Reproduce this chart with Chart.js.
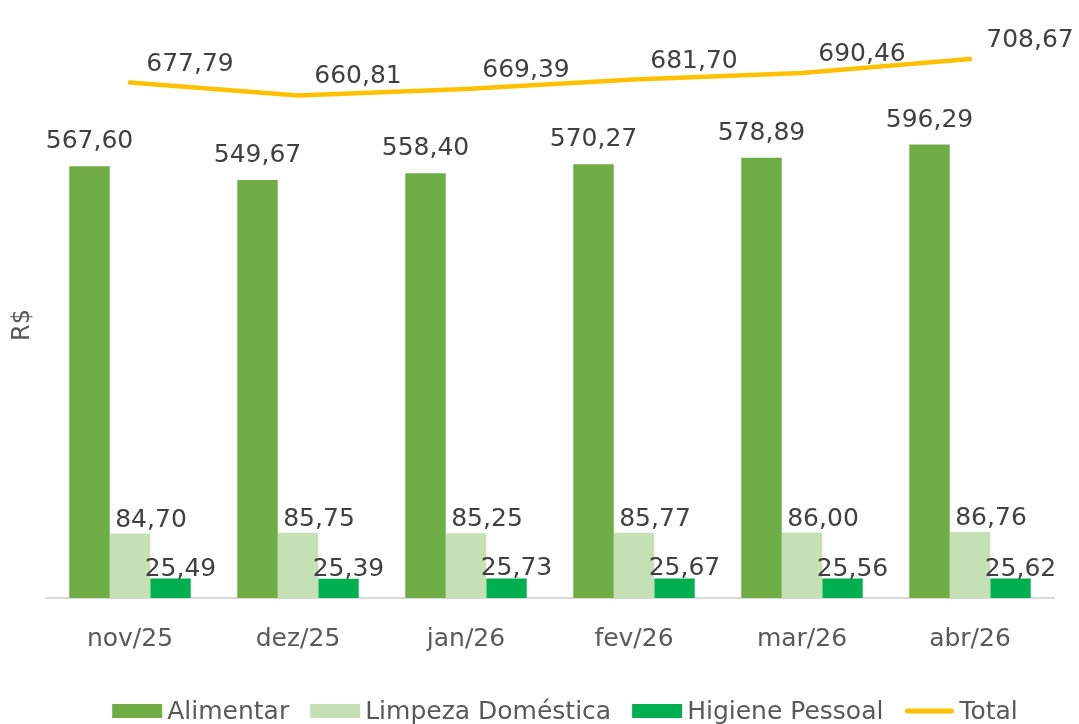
<!DOCTYPE html>
<html>
<head>
<meta charset="utf-8">
<script src="https://cdn.jsdelivr.net/npm/chart.js@4.4.1/dist/chart.umd.min.js"></script>
<style>
  html, body { margin: 0; padding: 0; background: #ffffff; overflow: hidden; }
  #wrap { width: 1079px; height: 724px; position: relative; }
</style>
</head>
<body>
<div id="wrap"><canvas id="c"></canvas></div>
<script>
const categories = ['nov/25', 'dez/25', 'jan/26', 'fev/26', 'mar/26', 'abr/26'];
const alimentar = [567.60, 549.67, 558.40, 570.27, 578.89, 596.29];
const limpeza = [84.70, 85.75, 85.25, 85.77, 86.00, 86.76];
const higiene = [25.49, 25.39, 25.73, 25.67, 25.56, 25.62];
const total = [677.79, 660.81, 669.39, 681.70, 690.46, 708.67];
const seriesNames = ['Alimentar', 'Limpeza Doméstica', 'Higiene Pessoal', 'Total'];
const yAxisTitle = 'R$';

const FONT = "'DejaVu Sans', sans-serif";
const W = 'normal';
const fmt = v => v.toFixed(2).replace('.', ',');

// label offsets per dataset: [dx, dy] relative to the element's top/center
const labelOffsets = [[0, -18], [21, -7], [10, -3], [60, -12]];

const valueLabels = {
  id: 'valueLabels',
  afterDatasetsDraw(chart) {
    const ctx = chart.ctx;
    ctx.save();
    ctx.font = W + ' 25px ' + FONT;
    ctx.fillStyle = '#404040';
    ctx.textAlign = 'center';
    ctx.textBaseline = 'alphabetic';
    chart.data.datasets.forEach((ds, i) => {
      const meta = chart.getDatasetMeta(i);
      const off = labelOffsets[i];
      meta.data.forEach((el, j) => {
        ctx.fillText(fmt(ds.data[j]), el.x + off[0], el.y + off[1]);
      });
    });
    ctx.restore();
  }
};

const customLegend = {
  id: 'customLegend',
  afterDraw(chart) {
    const ctx = chart.ctx;
    ctx.save();
    ctx.font = W + ' 25px ' + FONT;
    ctx.textBaseline = 'middle';
    ctx.textAlign = 'left';
    const boxW = 50, gapText = 5, gapItem = 21;
    const items = chart.data.datasets.map(ds => ({
      label: ds.label, color: ds.type === 'line' ? ds.borderColor : ds.backgroundColor,
      isLine: ds.type === 'line', w: ctx.measureText(ds.label).width
    }));
    let totalW = 0;
    items.forEach((it, k) => { totalW += boxW + gapText + it.w + (k < items.length - 1 ? gapItem : 0); });
    let x = 565 - totalW / 2;
    const cy = 711;
    items.forEach(it => {
      ctx.fillStyle = it.color;
      if (it.isLine) {
        ctx.strokeStyle = it.color;
        ctx.lineWidth = 5;
        ctx.lineCap = 'round';
        ctx.beginPath();
        ctx.moveTo(x + 3, cy);
        ctx.lineTo(x + boxW - 3, cy);
        ctx.stroke();
      } else {
        ctx.fillRect(x, cy - 7, boxW, 14);
      }
      x += boxW + gapText;
      ctx.fillStyle = '#595959';
      ctx.fillText(it.label, x, cy + 1);
      x += it.w + gapItem;
    });
    ctx.restore();
  }
};

new Chart(document.getElementById('c'), {
  type: 'bar',
  data: {
    labels: categories,
    datasets: [
      { label: seriesNames[0], data: alimentar, backgroundColor: '#70AD47', order: 2 },
      { label: seriesNames[1], data: limpeza, backgroundColor: '#C5E0B4', order: 2 },
      { label: seriesNames[2], data: higiene, backgroundColor: '#00B050', order: 2 },
      { type: 'line', label: seriesNames[3], data: total, borderColor: '#FFC000', backgroundColor: '#FFC000',
        borderWidth: 4.5, pointRadius: 0, tension: 0, borderCapStyle: 'round', borderJoinStyle: 'round', order: 1 }
    ]
  },
  options: {
    responsive: true,
    maintainAspectRatio: false,
    animation: false,
    layout: { padding: { left: 0, right: 25, top: 52, bottom: 0 } },
    datasets: { bar: { categoryPercentage: 0.723, barPercentage: 1.0 } },
    plugins: { legend: { display: false }, tooltip: { enabled: false } },
    scales: {
      x: {
        grid: { display: false },
        border: { display: true, color: '#D9D9D9', width: 2 },
        ticks: { font: { family: FONT, size: 25, weight: W }, color: '#595959', padding: 18 },
        afterFit(scale) { scale.height = 126; }
      },
      y: {
        min: 0, max: 718,
        grid: { display: false },
        border: { display: false },
        ticks: { display: false },
        title: { display: true, text: yAxisTitle, font: { family: FONT, size: 24, weight: W }, color: '#595959', padding: { top: 8, bottom: 0 } },
        afterFit(scale) { scale.width = 46; }
      }
    }
  },
  plugins: [valueLabels, customLegend]
});
</script>
</body>
</html>
